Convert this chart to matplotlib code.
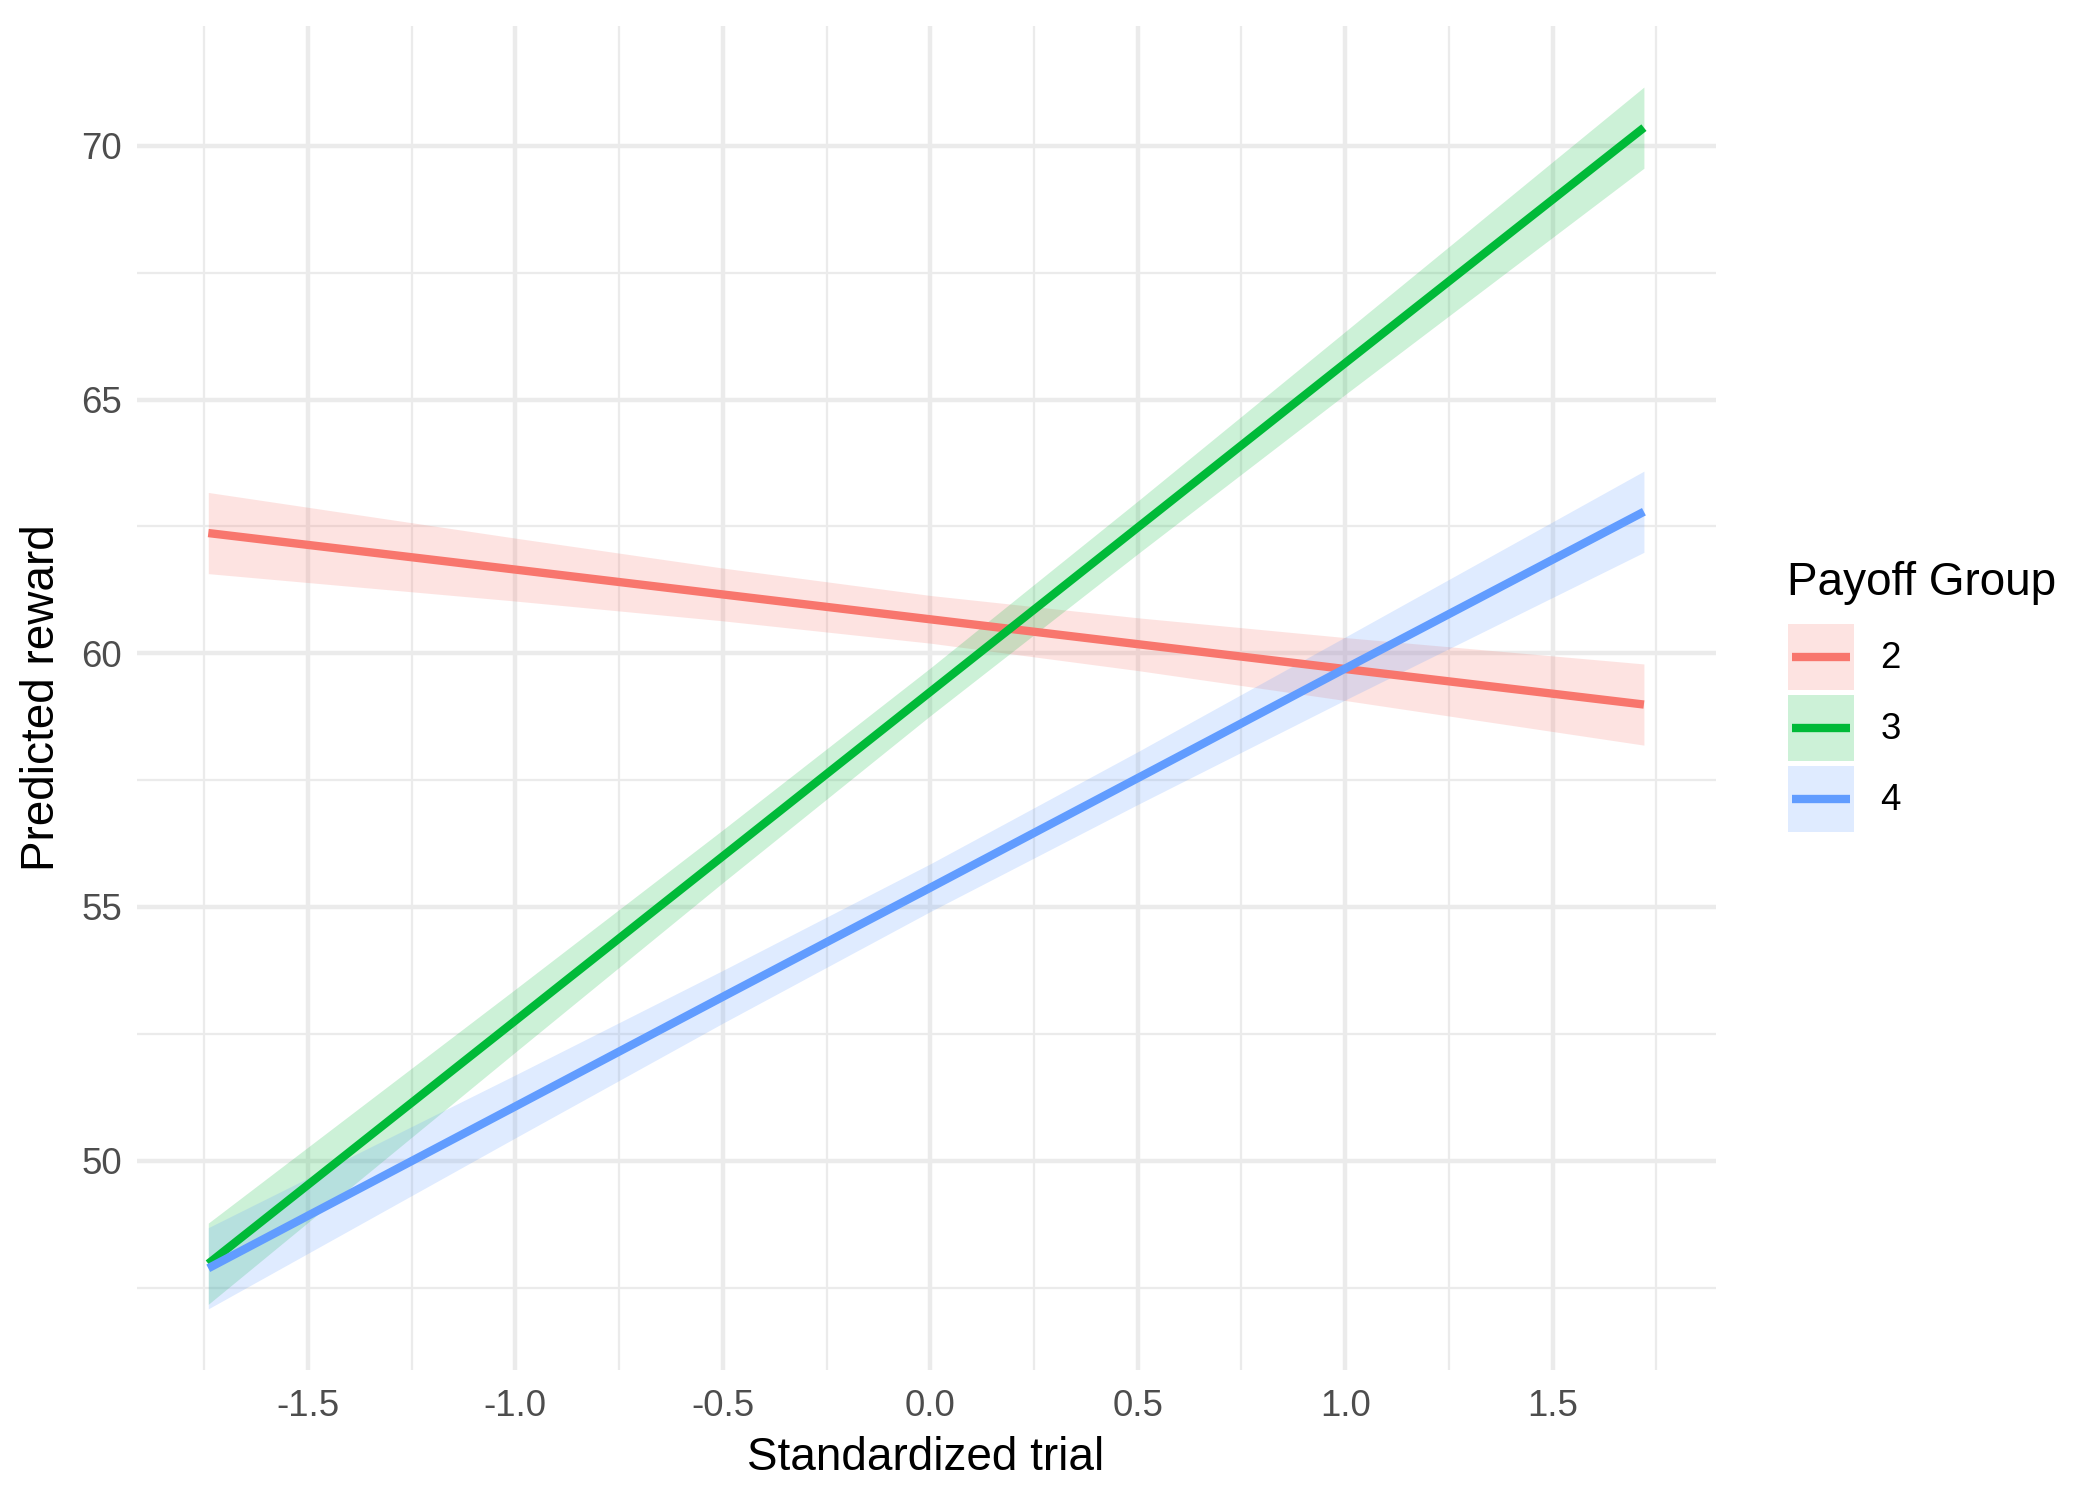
import matplotlib
matplotlib.use("Agg")
import matplotlib.pyplot as plt
from matplotlib.patches import Rectangle
from matplotlib.lines import Line2D
from matplotlib.legend_handler import HandlerBase
from matplotlib.ticker import MultipleLocator, FuncFormatter

plt.rcParams['font.family'] = ['Liberation Sans', 'DejaVu Sans']

# ---- data ----
trial = [-1.74, -1.0, -0.5, 0.0, 0.5, 1.0, 1.72]
groups = ["2", "3", "4"]
colors = ["#F8766D", "#00BA38", "#619CFF"]

pred_g2 = [62.37, 61.65, 61.16, 60.67, 60.18, 59.69, 58.99]
low_g2 = [61.57, 61.03, 60.64, 60.20, 59.66, 59.07, 58.19]
high_g2 = [63.17, 62.27, 61.68, 61.14, 60.70, 60.31, 59.79]

pred_g3 = [47.97, 52.76, 56.00, 59.24, 62.48, 65.72, 70.36]
low_g3 = [47.17, 52.14, 55.48, 58.77, 61.96, 65.10, 69.56]
high_g3 = [48.77, 53.38, 56.52, 59.71, 63.00, 66.34, 71.16]

pred_g4 = [47.88, 51.07, 53.23, 55.38, 57.54, 59.70, 62.79]
low_g4 = [47.08, 50.45, 52.71, 54.91, 57.02, 59.08, 61.99]
high_g4 = [48.68, 51.69, 53.75, 55.85, 58.06, 60.32, 63.59]

preds = [pred_g2, pred_g3, pred_g4]
lows = [low_g2, low_g3, low_g4]
highs = [high_g2, high_g3, high_g4]

LW = 2.0

fig = plt.figure(figsize=(7, 5), dpi=300)
ax = fig.add_axes([0.065, 0.0867, 0.752, 0.896])

for lo, hi, c in zip(lows, highs, colors):
    ax.fill_between(trial, lo, hi, color=c, alpha=0.2, linewidth=0)
lines = []
for p, c in zip(preds, colors):
    ln, = ax.plot(trial, p, color=c, lw=LW, solid_capstyle='butt', zorder=3)
    lines.append(ln)

# ggplot-like expansion (5%)
xmin, xmax = min(trial), max(trial)
ymin = min(min(l) for l in lows)
ymax = max(max(h) for h in highs)
dx = (xmax - xmin) * 0.05
dy = (ymax - ymin) * 0.05
ax.set_xlim(xmin - dx, xmax + dx)
ax.set_ylim(ymin - dy, ymax + dy)

ax.xaxis.set_major_locator(MultipleLocator(0.5))
ax.xaxis.set_minor_locator(MultipleLocator(0.25))
ax.yaxis.set_major_locator(MultipleLocator(5))
ax.yaxis.set_minor_locator(MultipleLocator(2.5))
ax.xaxis.set_major_formatter(FuncFormatter(lambda v, p: f"{v:.1f}".replace("-0.0", "0.0")))
ax.yaxis.set_major_formatter(FuncFormatter(lambda v, p: f"{v:.0f}"))

ax.grid(which='major', color='#EBEBEB', lw=1.07)
ax.grid(which='minor', color='#EBEBEB', lw=0.53)
ax.set_axisbelow(True)
for s in ax.spines.values():
    s.set_visible(False)
ax.tick_params(which='both', length=0)
ax.tick_params(axis='x', labelsize=8.8, labelcolor='#4D4D4D', pad=4.5)
ax.tick_params(axis='y', labelsize=8.8, labelcolor='#4D4D4D', pad=3.5)

ax.set_xlabel("Standardized trial", fontsize=11, color='black', labelpad=3)
ax.set_ylabel("Predicted reward", fontsize=11, color='black', labelpad=4)


class KeyHandler(HandlerBase):
    def create_artists(self, legend, orig_handle, xdescent, ydescent,
                       width, height, fontsize, trans):
        c = orig_handle.get_color()
        rect = Rectangle((-xdescent, -ydescent), width, height,
                         facecolor=c, alpha=0.2, edgecolor='none',
                         transform=trans)
        y = -ydescent + height / 2
        ln = Line2D([-xdescent + 0.06 * width, -xdescent + 0.94 * width],
                    [y, y], color=c, lw=LW, solid_capstyle='butt',
                    transform=trans)
        return [rect, ln]


fig.text(0.851, 0.6035, "Payoff Group", fontsize=11, ha='left',
         va='baseline', color='black')
leg = fig.legend(lines, groups, loc='upper left',
                 bbox_to_anchor=(0.8514, 0.584), frameon=False,
                 fontsize=8.8, handlelength=1.8, handleheight=2.39,
                 labelspacing=0.14, handletextpad=0.72,
                 borderpad=0, borderaxespad=0,
                 handler_map={Line2D: KeyHandler()})

fig.savefig("out.png", dpi=300)
